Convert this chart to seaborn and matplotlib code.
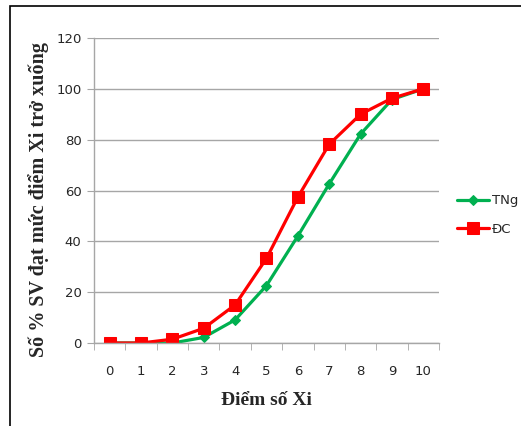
import matplotlib
matplotlib.use("Agg")
import matplotlib.pyplot as plt
import seaborn as sns
import pandas as pd
from matplotlib.patches import Rectangle

scores = [0, 1, 2, 3, 4, 5, 6, 7, 8, 9, 10]
tng = [0, 0, 0, 2.2, 9.1, 22.6, 42.1, 62.6, 82.2, 95.8, 100]
dc = [0, 0, 1.5, 5.8, 15, 33.3, 57.4, 78.2, 90, 96.3, 100]
series_names = ["TNg", "ĐC"]
colors = {"TNg": "#00B050", "ĐC": "#FF0000"}
markers = {"TNg": "D", "ĐC": "s"}

df = pd.concat([
    pd.DataFrame({"x": scores, "y": tng, "s": "TNg"}),
    pd.DataFrame({"x": scores, "y": dc, "s": "ĐC"}),
])

sns.set_style("white")
fig = plt.figure(figsize=(5.21, 4.26), dpi=100)
ax = fig.add_axes([0.1804, 0.1948, 0.8426 - 0.1804, 0.9108 - 0.1948])

for name in series_names:
    sub = df[df["s"] == name]
    sns.lineplot(data=sub, x="x", y="y", ax=ax, color=colors[name], marker=markers[name],
                 markersize=5.5 if name == "TNg" else 9, linewidth=2.3,
                 markeredgecolor=colors[name], label=name, legend=False)

ax.set_xlim(-0.5, 10.5)
ax.set_ylim(0, 120)
ax.set_yticks(range(0, 121, 20))
ax.set_xticks(scores)
ax.set_xticks([i - 0.5 for i in range(12)], minor=True)
ax.grid(axis="y", color="#A6A6A6", linewidth=1)
ax.set_axisbelow(True)
for sp in ["top", "right"]:
    ax.spines[sp].set_visible(False)
for sp in ["left", "bottom"]:
    ax.spines[sp].set_color("#A6A6A6")
    ax.spines[sp].set_linewidth(1)
ax.tick_params(axis="x", which="major", length=0, pad=16, labelsize=9.5, labelcolor="#262626")
ax.tick_params(axis="x", which="minor", length=5, color="#A6A6A6", direction="out", bottom=True)
ax.tick_params(axis="y", length=5, color="#A6A6A6", direction="out", left=True, labelsize=9.5, labelcolor="#262626", pad=4)

ax.set_xlabel("Điểm số Xi", fontfamily="Liberation Serif", fontweight="bold", fontsize=14)
ax.set_ylabel("Số % SV đạt mức điểm Xi trở xuống", fontfamily="Liberation Serif", fontweight="bold", fontsize=14.5)
ax.xaxis.label.set_va("center")
ax.yaxis.label.set_va("center")
ax.xaxis.set_label_coords(0.5, -0.19)
ax.yaxis.set_label_coords(-0.162, 0.469)

h, l = ax.get_legend_handles_labels()
fig.legend(h, l, loc="center left", bbox_to_anchor=(0.855, 0.495), frameon=False,
           fontsize=9.5, handlelength=2.4, handletextpad=0.2, labelspacing=1.2)

fig.patches.append(Rectangle((0.019, -0.01), 1.0, 0.996, transform=fig.transFigure,
                             fill=False, edgecolor="black", linewidth=1.2))

fig.savefig("out.png", dpi=100)
